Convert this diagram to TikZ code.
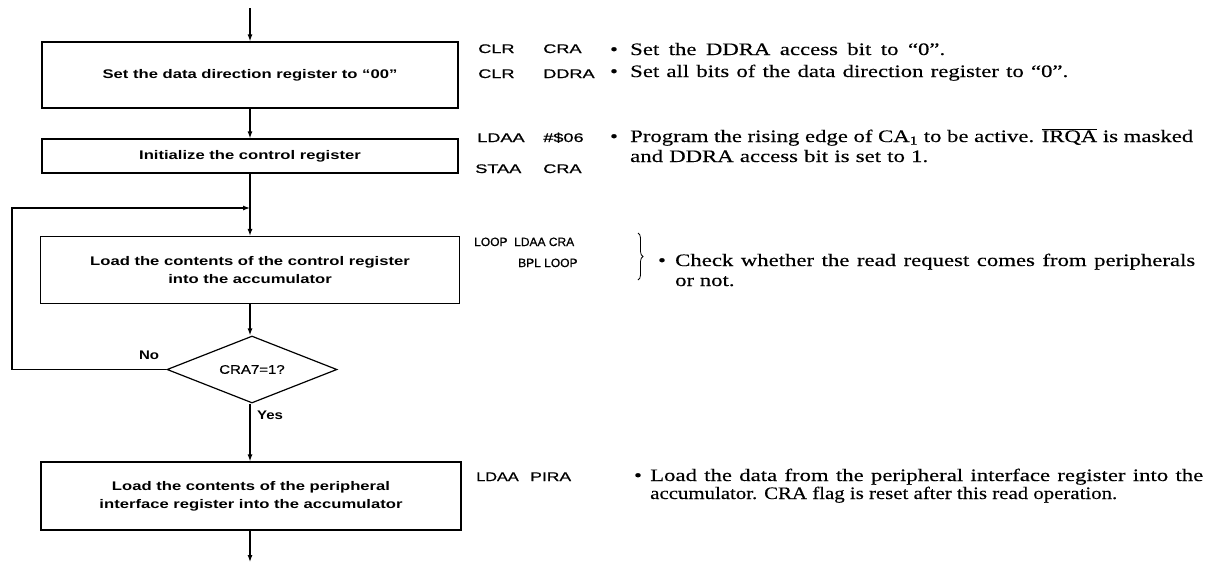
\documentclass[tikz,border=0pt]{standalone}
\usepackage{fontspec}
\usepackage{graphicx}
\setmainfont{Liberation Serif}
\newfontfamily\descfont[FakeStretch=1.3,FakeBold=0.3]{Liberation Serif}
\newfontfamily\hvfont{Liberation Sans}
\newfontfamily\cdfont[FakeBold=0.6]{Liberation Sans}
\usetikzlibrary{arrows.meta,shapes.geometric,decorations.pathreplacing}
\newcommand\bxt[1]{\scalebox{1.33}[1]{#1}}
\tikzset{
  boxnode/.style={draw, line width=1.2pt, inner sep=0pt, align=center,
    font=\hvfont\bfseries\fontsize{12.5}{18}\selectfont},
  decnode/.style={draw, diamond, aspect=2.5, line width=1.2pt, inner sep=0pt,
    minimum width=170pt, minimum height=67pt,
    font=\cdfont\fontsize{12.5}{15}\selectfont},
  lbl/.style={inner sep=0pt, font=\hvfont\bfseries\fontsize{12.5}{15}\selectfont},
  arr/.style={line width=1.2pt, -{Latex[length=7pt,width=5pt]}},
  desc/.style={anchor=base west, inner sep=0pt, font=\descfont\fontsize{17.5}{20}\selectfont},
  bul/.style={anchor=base, inner sep=0pt, font=\descfont\fontsize{17.5}{20}\selectfont},
  code/.style={anchor=base west, inner sep=0pt, font=\cdfont\fontsize{12.5}{14}\selectfont},
  codes/.style={anchor=base west, inner sep=0pt, font=\cdfont\fontsize{12}{14}\selectfont},
  bracestyle/.style={decorate, decoration={brace, amplitude=5pt}, line width=0.8pt}
}
\begin{document}
\begin{tikzpicture}[x=1pt,y=-1pt]
\useasboundingbox (0,0) rectangle (1210,566);
% flowchart
\coordinate (top) at (250,8);
\node[boxnode, minimum width=416pt, minimum height=66pt] (b1) at (250,75)
  {\bxt{Set the data direction register to “00”}};
\node[boxnode, minimum width=416pt, minimum height=34pt] (b2) at (250,156)
  {\bxt{Initialize the control register}};
\node[boxnode, minimum width=419pt, minimum height=67pt] (b3) at (250,270)
  {\bxt{Load the contents of the control register}\\\bxt{into the accumulator}};
\node[decnode] (dec) at (252,369.5) {\scalebox{1.2}[1]{CRA7=1?}};
\node[boxnode, minimum width=420pt, minimum height=68pt] (b4) at (251,496)
  {\bxt{Load the contents of the peripheral}\\\bxt{interface register into the accumulator}};
\coordinate (bot) at (250,562);
\coordinate (lc) at (12,208);
\coordinate (lj) at (250,208);
\draw[arr] (top) -- (b1.north -| top);
\draw[arr] (b1.south -| top) -- (b2.north -| top);
\draw[arr] (b2.south -| top) -- (b3.north -| top);
\draw[arr] (b3.south -| top) -- (dec.north -| top);
\draw[arr] (dec.south -| top) -- (b4.north -| top);
\draw[arr] (b4.south -| top) -- (bot);
\draw[arr] (dec.west) -| (lc) -- (lj);
\node[lbl] (no) at (149,355) {\scalebox{1.2}[1]{No}};
\node[lbl] (yes) at (270,415) {\scalebox{1.2}[1]{Yes}};
% code column
\node[code, xscale=1.45] (c1a) at (478,53) {CLR};
\node[code, xscale=1.45] (c1b) at (543,53) {CRA};
\node[code, xscale=1.45] (c2a) at (478,78) {CLR};
\node[code, xscale=1.45] (c2b) at (543,78) {DDRA};
\node[code, xscale=1.45] (c3a) at (477,142) {LDAA};
\node[code, xscale=1.45] (c3b) at (543,142) {\#\$06};
\node[code, xscale=1.45] (c4a) at (475,173) {STAA};
\node[code, xscale=1.45] (c4b) at (543,173) {CRA};
\node[codes] (c5a) at (474,246) {LOOP};
\node[codes] (c5b) at (514,246) {LDAA CRA};
\node[codes] (c6a) at (518,267) {BPL LOOP};
\node[code, xscale=1.3] (c7a) at (476,481) {LDAA};
\node[code, xscale=1.4] (c7b) at (530,481) {PIRA};
\coordinate (br1) at (638,233);
\coordinate (br2) at (638,280);
\draw[bracestyle] (br1) -- (br2);
% bullets
\node[bul] (u1) at (614,55) {•};
\node[bul] (u2) at (614,77) {•};
\node[bul] (u3) at (614,142) {•};
\node[bul] (u4) at (662,266) {•};
\node[bul] (u5) at (638,481) {•};
% descriptions
\node[desc] (d1) at (630,55) {\makebox[315pt][s]{Set the DDRA access bit to “0”.}};
\node[desc] (d2) at (630,77) {\makebox[438pt][s]{Set all bits of the data direction register to “0”.}};
\node[desc] (d3) at (630,142) {\makebox[563pt][s]{Program the rising edge of CA\textsubscript{1} to be active. $\overline{\hbox{\descfont\fontsize{17.5}{20}\selectfont IRQA}}$ is masked}};
\node[desc] (d4) at (630,162) {\makebox[298pt][s]{and DDRA access bit is set to 1.}};
\node[desc] (d5) at (675,266) {\makebox[520pt][s]{Check whether the read request comes from peripherals}};
\node[desc] (d6) at (675,286) {or not.};
\node[desc] (d7) at (650,481) {\makebox[553pt][s]{Load the data from the peripheral interface register into the}};
\node[desc] (d8) at (650,499) {\resizebox{467pt}{\height}{accumulator. CRA flag is reset after this read operation.}};
\end{tikzpicture}
\end{document}
